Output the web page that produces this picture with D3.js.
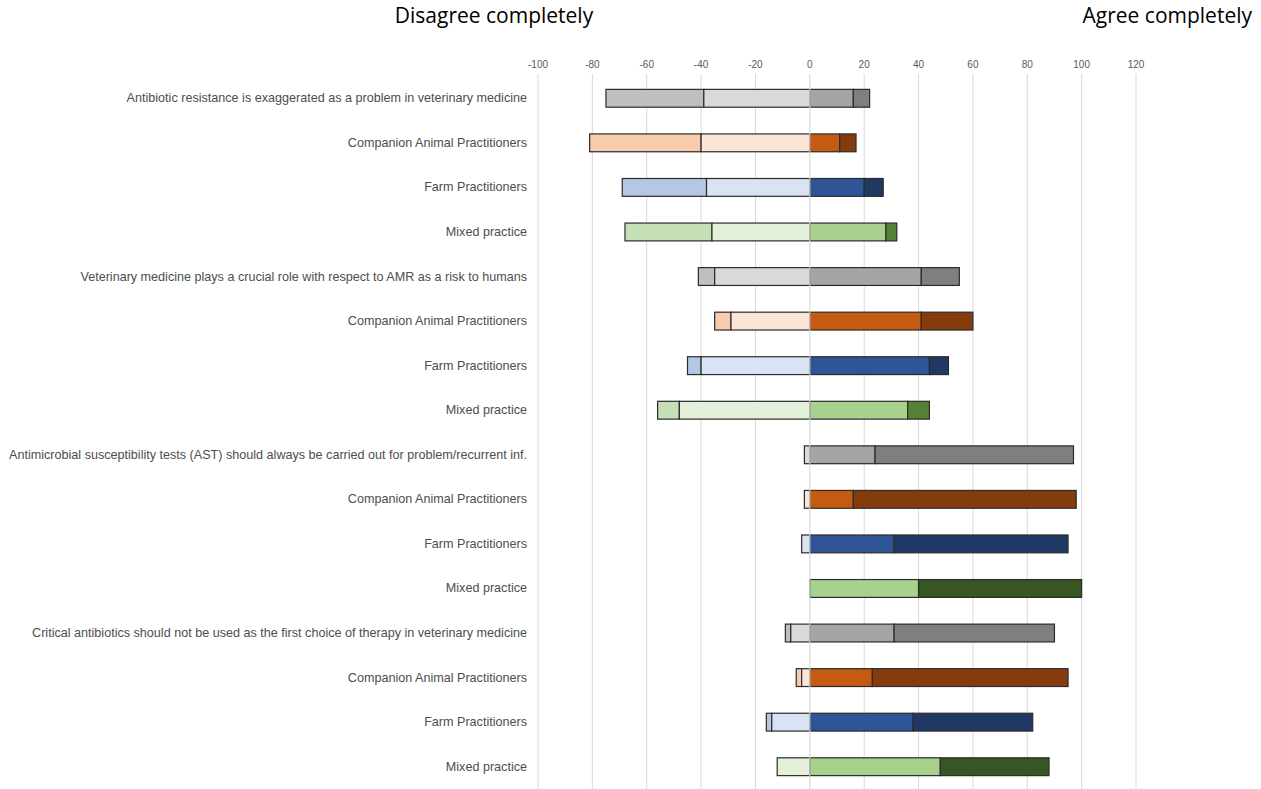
<!DOCTYPE html>
<html>
<head>
<meta charset="utf-8">
<script src="https://cdn.jsdelivr.net/npm/d3@7"></script>
<style>
  body { margin: 0; background: #fff; }
  svg { display: block; }
</style>
</head>
<body>
<svg id="chart" width="1261" height="789"></svg>
<script>
const categories = [
  "Antibiotic resistance is exaggerated as a problem in veterinary medicine ",
  "Companion Animal Practitioners",
  "Farm Practitioners",
  "Mixed practice",
  "Veterinary medicine plays a crucial role with respect to AMR as a risk to humans",
  "Companion Animal Practitioners",
  "Farm Practitioners",
  "Mixed practice",
  "Antimicrobial susceptibility tests (AST) should always be carried out for problem/recurrent inf.",
  "Companion Animal Practitioners",
  "Farm Practitioners",
  "Mixed practice",
  "Critical antibiotics should not be used as the first choice of therapy in veterinary medicine",
  "Companion Animal Practitioners",
  "Farm Practitioners",
  "Mixed practice"
];
const groups = ["All","Companion","Farm","Mixed","All","Companion","Farm","Mixed","All","Companion","Farm","Mixed","All","Companion","Farm","Mixed"];
// percentages
const disagreeCompletely = [36, 41, 31, 32, 6, 6, 5, 8, 0, 0, 0, 0, 2, 2, 2, 0];
const disagree           = [39, 40, 38, 36, 35, 29, 40, 48, 2, 2, 3, 0, 7, 3, 14, 12];
const agree              = [16, 11, 20, 28, 41, 41, 44, 36, 24, 16, 31, 40, 31, 23, 38, 48];
const agreeCompletely    = [6, 6, 7, 4, 14, 19, 7, 8, 73, 82, 64, 60, 59, 72, 44, 40];
const tickValues = [-100, -80, -60, -40, -20, 0, 20, 40, 60, 80, 100, 120];

const palette = {
  All:       ["#bfbfbf", "#d9d9d9", "#a5a5a5", "#7f7f7f"],
  Companion: ["#f8cbad", "#fbe5d6", "#c55a11", "#843c0c"],
  Farm:      ["#b4c7e7", "#dae3f3", "#2f5597", "#1f3864"],
  Mixed:     ["#c5e0b4", "#e2f0d9", "#a9d18e", "#548235"]
};
const mixedDarkLate = "#375623";

const svg = d3.select("#chart");
const x = d3.scaleLinear().domain([-100, 120]).range([538, 1136]);
const y = d3.scaleBand().domain(d3.range(categories.length)).range([76, 789])
  .paddingInner(0.6).paddingOuter(0.3);

// gridlines
svg.append("g").selectAll("line").data(tickValues.filter(d => d !== 0)).join("line")
  .attr("x1", d => x(d)).attr("x2", d => x(d))
  .attr("y1", 74).attr("y2", 789)
  .attr("stroke", "#d9d9d9").attr("stroke-width", 1);

// tick labels
svg.append("g").selectAll("text").data(tickValues).join("text")
  .attr("x", d => x(d)).attr("y", 68)
  .attr("text-anchor", "middle")
  .attr("font-family", "Liberation Sans, Arial, sans-serif")
  .attr("font-size", 10).attr("fill", "#595959")
  .text(d => d);

// segments
const segs = [];
categories.forEach((c, i) => {
  const pal = palette[groups[i]].slice();
  if (groups[i] === "Mixed" && i >= 8) pal[3] = mixedDarkLate;
  const dc = disagreeCompletely[i], d = disagree[i], a = agree[i], ac = agreeCompletely[i];
  segs.push({ i, x0: -(d + dc), x1: -d, color: pal[0] });
  segs.push({ i, x0: -d, x1: 0, color: pal[1] });
  segs.push({ i, x0: 0, x1: a, color: pal[2] });
  segs.push({ i, x0: a, x1: a + ac, color: pal[3] });
});
svg.append("g").selectAll("rect").data(segs.filter(s => s.x1 - s.x0 > 0)).join("rect")
  .attr("x", s => x(s.x0)).attr("width", s => x(s.x1) - x(s.x0))
  .attr("y", s => y(s.i)).attr("height", y.bandwidth())
  .attr("fill", s => s.color)
  .attr("stroke", "#2b2b2b").attr("stroke-width", 1.2);

// zero line on top
svg.append("line")
  .attr("x1", x(0)).attr("x2", x(0)).attr("y1", 74).attr("y2", 789)
  .attr("stroke", "#d9d9d9").attr("stroke-width", 1.2);

// category labels
svg.append("g").selectAll("text").data(categories).join("text")
  .attr("x", 527).attr("y", (d, i) => y(i) + y.bandwidth() / 2 + 4)
  .attr("text-anchor", "end")
  .attr("font-family", "Liberation Sans, Arial, sans-serif")
  .attr("font-size", 12.6).attr("fill", "#4d4d4d")
  .text(d => d);

// headers
svg.append("text").attr("x", 494).attr("y", 23).attr("text-anchor", "middle")
  .attr("font-family", "Open Sans, sans-serif").attr("font-size", 21).attr("fill", "#000")
  .text("Disagree completely");
svg.append("text").attr("x", 1252).attr("y", 23).attr("text-anchor", "end")
  .attr("font-family", "Open Sans, sans-serif").attr("font-size", 21).attr("fill", "#000")
  .text("Agree completely");
</script>
</body>
</html>
